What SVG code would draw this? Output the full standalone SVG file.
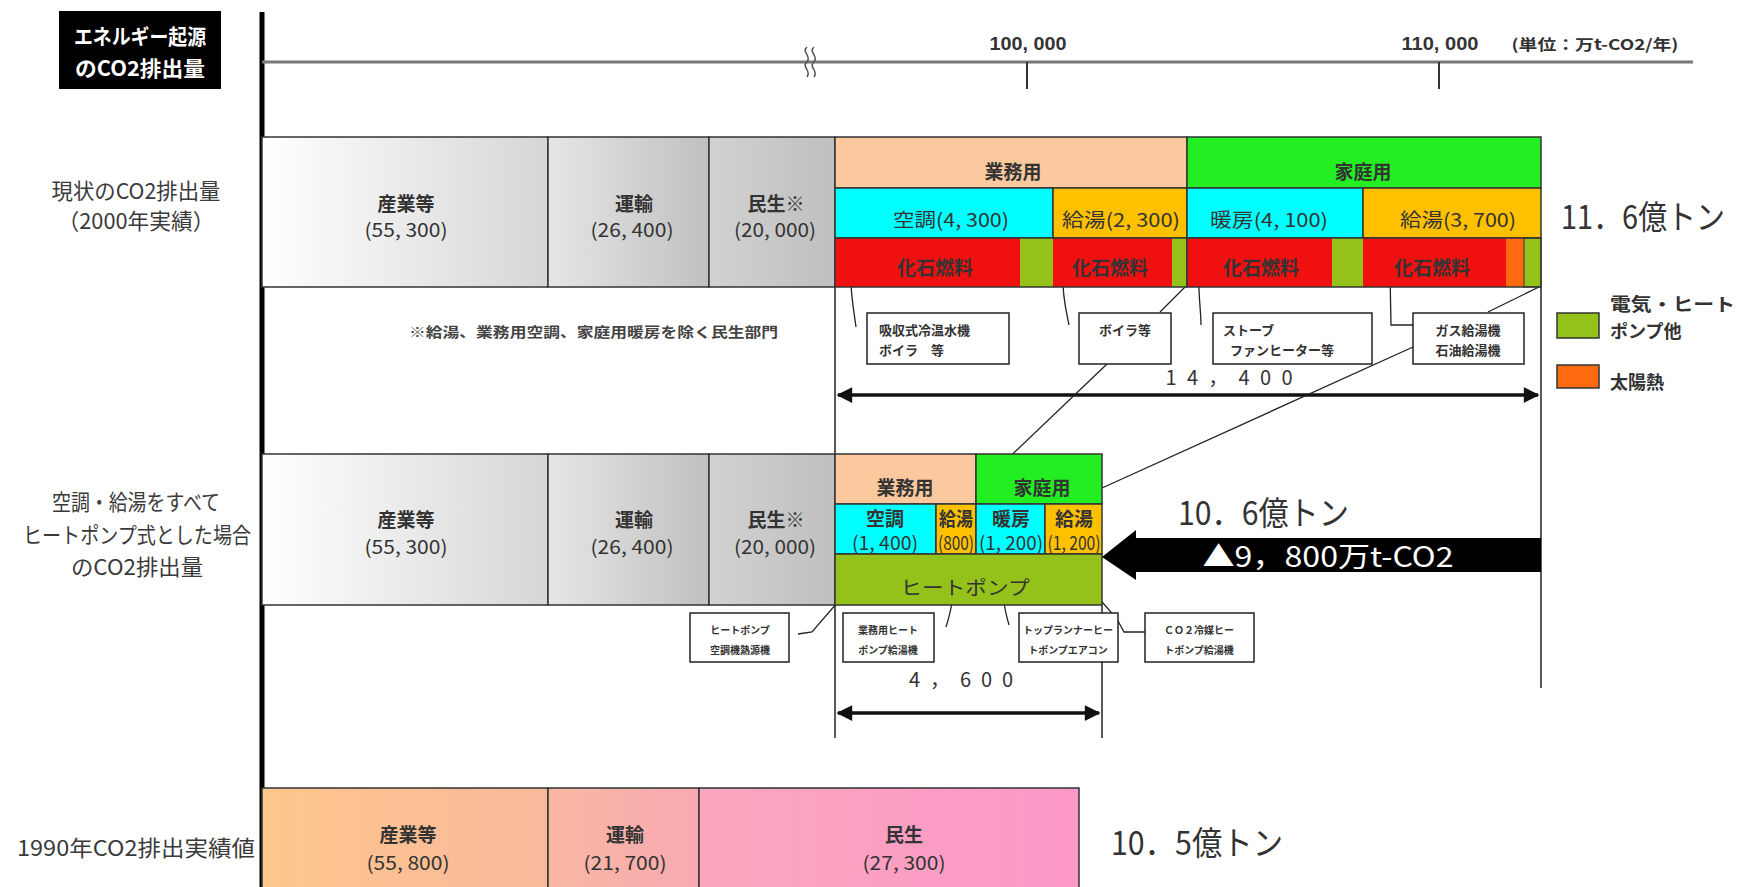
<svg xmlns="http://www.w3.org/2000/svg" width="1739" height="887" viewBox="0 0 1739 887">
<defs>
<style>
.jp{font-family:"Noto Sans CJK JP","Liberation Sans",sans-serif;}
.lbl{font-family:"Noto Sans CJK JP",sans-serif;font-size:22px;fill:#3a3a3a;text-anchor:middle;}
.bx{stroke:#333;stroke-width:1.5;}
.bt{font-family:"Noto Sans CJK JP",sans-serif;font-size:19px;fill:#333;text-anchor:middle;}
.bb{font-weight:bold;}
.num{font-family:"Liberation Sans",sans-serif;font-size:18px;fill:#333;text-anchor:middle;}
.co{fill:#fff;stroke:#222;stroke-width:1.5;}
.ct{font-family:"Noto Sans CJK JP",sans-serif;font-size:13px;font-weight:bold;fill:#333;}
.cs{font-family:"Noto Sans CJK JP",sans-serif;font-size:10px;font-weight:bold;fill:#333;text-anchor:middle;}
.big{font-family:"Noto Sans CJK JP",sans-serif;font-size:33px;fill:#333;}
.ld{fill:none;stroke:#222;stroke-width:1.3;}
.dim{stroke:#111;stroke-width:3.5;fill:none;}
</style>
<linearGradient id="gA" x1="0" x2="1" y1="0" y2="0"><stop offset="0" stop-color="#ffffff"/><stop offset="1" stop-color="#d6d6d6"/></linearGradient>
<linearGradient id="gB" x1="0" x2="1" y1="0" y2="0"><stop offset="0" stop-color="#e6e6e6"/><stop offset="1" stop-color="#c0c0c0"/></linearGradient>
<linearGradient id="gC" x1="0" x2="1" y1="0" y2="0"><stop offset="0" stop-color="#d2d2d2"/><stop offset="1" stop-color="#bfbfbf"/></linearGradient>
<linearGradient id="pA" x1="0" x2="1" y1="0" y2="0"><stop offset="0" stop-color="#fdc68c"/><stop offset="1" stop-color="#f9b99c"/></linearGradient>
<linearGradient id="pB" x1="0" x2="1" y1="0" y2="0"><stop offset="0" stop-color="#f9b8a3"/><stop offset="1" stop-color="#f8a9b1"/></linearGradient>
<linearGradient id="pC" x1="0" x2="1" y1="0" y2="0"><stop offset="0" stop-color="#f9a7bd"/><stop offset="1" stop-color="#fd97c8"/></linearGradient>
<marker id="ah" viewBox="0 0 10 10" refX="9" refY="5" markerWidth="6" markerHeight="4.5" orient="auto-start-reverse" markerUnits="strokeWidth"><path d="M0,0 L10,5 L0,10 z" fill="#111"/></marker>
</defs>
<rect width="1739" height="887" fill="#fff"/>

<!-- title / axis -->
<g id="title">
<rect x="59" y="11" width="162" height="78" fill="#000"/>
<text class="jp" x="140" y="44" font-size="21" font-weight="bold" fill="#fff" text-anchor="middle" textLength="132" lengthAdjust="spacingAndGlyphs">エネルギー起源</text>
<text class="jp" x="140" y="76" font-size="21" font-weight="bold" fill="#fff" text-anchor="middle" textLength="130" lengthAdjust="spacingAndGlyphs">のCO2排出量</text>
</g>
<g id="axis">
<line x1="262" y1="12" x2="262" y2="887" stroke="#000" stroke-width="5"/>
<line x1="262" y1="62" x2="1693" y2="62" stroke="#777" stroke-width="3"/>
<path d="M807,47 c-6,5 5,9 0,15 c-6,5 5,9 0,15 M814,47 c-6,5 5,9 0,15 c-6,5 5,9 0,15" fill="none" stroke="#555" stroke-width="1.5"/>
<line x1="1027" y1="62" x2="1027" y2="89" stroke="#333" stroke-width="2"/>
<line x1="1439" y1="62" x2="1439" y2="89" stroke="#333" stroke-width="2"/>
<text class="num" x="1028" y="50" font-weight="bold" textLength="77" lengthAdjust="spacingAndGlyphs">100, 000</text>
<text class="num" x="1440" y="50" font-weight="bold" textLength="77" lengthAdjust="spacingAndGlyphs">110, 000</text>
<text class="jp" x="1595" y="50" font-size="15" font-weight="bold" fill="#333" text-anchor="middle" textLength="167" lengthAdjust="spacingAndGlyphs">(単位：万t-CO2/年)</text>
</g>

<!-- row labels -->
<g id="row-labels">
<text class="lbl" x="136" y="199" font-size="20" textLength="169" lengthAdjust="spacingAndGlyphs">現状のCO2排出量</text>
<text class="lbl" x="136" y="229" font-size="20" textLength="157" lengthAdjust="spacingAndGlyphs">（2000年実績）</text>
<text class="lbl" x="136" y="510" textLength="168" lengthAdjust="spacingAndGlyphs">空調・給湯をすべて</text>
<text class="lbl" x="137" y="543" textLength="228" lengthAdjust="spacingAndGlyphs">ヒートポンプ式とした場合</text>
<text class="lbl" x="137" y="575" textLength="132" lengthAdjust="spacingAndGlyphs">のCO2排出量</text>
<text class="lbl" x="136" y="856" textLength="238" lengthAdjust="spacingAndGlyphs">1990年CO2排出実績値</text>
</g>

<!-- connectors -->
<g id="connectors">
<line x1="835" y1="287" x2="835" y2="454" stroke="#222" stroke-width="1.5"/>
<line x1="1541" y1="287" x2="1541" y2="688" stroke="#222" stroke-width="1.5"/>
<line x1="835" y1="605" x2="835" y2="738" stroke="#222" stroke-width="1.5"/>
<line x1="1102" y1="605" x2="1102" y2="738" stroke="#222" stroke-width="1.5"/>
<line class="dim" x1="838" y1="395" x2="1538" y2="395" marker-start="url(#ah)" marker-end="url(#ah)"/>
<line class="dim" x1="838" y1="713" x2="1099" y2="713" marker-start="url(#ah)" marker-end="url(#ah)"/>
<text class="jp" x="1229" y="385" font-size="20" fill="#333" text-anchor="middle" textLength="127" lengthAdjust="spacing">14，400</text>
<text class="jp" x="961" y="687" font-size="20" fill="#333" text-anchor="middle" textLength="104" lengthAdjust="spacing">4，600</text>
<path class="ld" d="M851,273 C850,290 853,305 856,327"/>
<path class="ld" d="M1063,275 C1062,295 1066,310 1069,325"/>
<path class="ld" d="M1199,273 C1198,295 1201,310 1201,325"/>
<path class="ld" d="M1390,273 L1391,325 L1413,325"/>
<path class="ld" d="M1160,312 L1186,286"/>
<path class="ld" d="M1488,312 L1541,286"/>
<path class="ld" d="M1107,364 L977,488"/>
<path class="ld" d="M1413,347 L1102,488"/>
<path class="ld" d="M798,634 L812,632 L850,588"/>
<path class="ld" d="M954,590 C952,605 950,615 946,627"/>
<path class="ld" d="M1002,590 C1004,605 1006,615 1009,625"/>
<path class="ld" d="M1090,588 L1117,619 L1124,632 L1145,632"/>
</g>

<!-- row 1 -->
<g id="r1-sangyo">
<rect class="bx" x="262" y="137" width="286" height="150" fill="url(#gA)"/>
<text class="bt bb" x="406" y="211">産業等</text>
<text class="bt" x="406" y="237" textLength="83" lengthAdjust="spacingAndGlyphs">(55, 300)</text>
</g>
<g id="r1-unyu">
<rect class="bx" x="548" y="137" width="161" height="150" fill="url(#gB)"/>
<text class="bt bb" x="634" y="211">運輸</text>
<text class="bt" x="632" y="237" textLength="83" lengthAdjust="spacingAndGlyphs">(26, 400)</text>
</g>
<g id="r1-minsei">
<rect class="bx" x="709" y="137" width="126" height="150" fill="url(#gC)"/>
<text class="bt bb" x="776" y="211">民生※</text>
<text class="bt" x="775" y="237" textLength="82" lengthAdjust="spacingAndGlyphs">(20, 000)</text>
</g>
<g id="r1-gyomu">
<rect class="bx" x="835" y="137" width="352" height="51" fill="#fbc99d"/>
<text class="bt bb" x="1013" y="179" fill="#5a3a1a">業務用</text>
<rect class="bx" x="835" y="188" width="218" height="50" fill="#00ffff"/>
<text class="bt" x="951" y="227" fill="#1f5f86" textLength="116" lengthAdjust="spacingAndGlyphs">空調(4, 300)</text>
<rect class="bx" x="1053" y="188" width="134" height="50" fill="#ffc000"/>
<text class="bt" x="1121" y="227" fill="#5a4210" textLength="118" lengthAdjust="spacingAndGlyphs">給湯(2, 300)</text>
<rect x="835" y="238" width="185" height="49" fill="#f01010"/>
<rect x="1020" y="238" width="33" height="49" fill="#94c11a"/>
<rect x="1053" y="238" width="119" height="49" fill="#f01010"/>
<rect x="1172" y="238" width="15" height="49" fill="#94c11a"/>
<rect x="835" y="238" width="352" height="49" fill="none" stroke="#333" stroke-width="1.5"/>
<text class="bt bb" x="935" y="275" fill="#a01010" font-size="18">化石燃料</text>
<text class="bt bb" x="1110" y="275" fill="#a01010" font-size="18">化石燃料</text>
</g>
<g id="r1-katei">
<rect class="bx" x="1187" y="137" width="354" height="51" fill="#22ee22"/>
<text class="bt bb" x="1363" y="179" fill="#0c5a0c">家庭用</text>
<rect class="bx" x="1187" y="188" width="176" height="50" fill="#00ffff"/>
<text class="bt" x="1269" y="227" fill="#1f5f86" textLength="118" lengthAdjust="spacingAndGlyphs">暖房(4, 100)</text>
<rect class="bx" x="1363" y="188" width="178" height="50" fill="#ffc000"/>
<text class="bt" x="1458" y="227" fill="#5a4210" textLength="116" lengthAdjust="spacingAndGlyphs">給湯(3, 700)</text>
<rect x="1187" y="238" width="145" height="49" fill="#f01010"/>
<rect x="1332" y="238" width="31" height="49" fill="#94c11a"/>
<rect x="1363" y="238" width="143" height="49" fill="#f01010"/>
<rect x="1506" y="238" width="18" height="49" fill="#ff6a10"/>
<rect x="1524" y="238" width="17" height="49" fill="#94c11a" stroke="#333" stroke-width="1"/>
<rect x="1187" y="238" width="354" height="49" fill="none" stroke="#333" stroke-width="1.5"/>
<text class="bt bb" x="1261" y="275" fill="#a01010" font-size="18">化石燃料</text>
<text class="bt bb" x="1432" y="275" fill="#a01010" font-size="18">化石燃料</text>
</g>
<g id="r1-total"><text class="big" x="1725" y="229" font-size="29" text-anchor="end" textLength="164" lengthAdjust="spacingAndGlyphs">11．6億トン</text></g>
<g id="note"><text class="jp" x="409" y="337" font-size="14" font-weight="bold" fill="#444" textLength="369" lengthAdjust="spacingAndGlyphs">※給湯、業務用空調、家庭用暖房を除く民生部門</text></g>

<!-- row 1 callouts -->
<g id="c-kyushu"><rect class="co" x="867" y="313" width="142" height="51"/>
<text class="ct" x="879" y="335">吸収式冷温水機</text><text class="ct" x="879" y="355">ボイラ　等</text></g>
<g id="c-boira"><rect class="co" x="1079" y="313" width="92" height="51"/>
<text class="ct" x="1125" y="335" text-anchor="middle">ボイラ等</text></g>
<g id="c-stove"><rect class="co" x="1213" y="313" width="159" height="51"/>
<text class="ct" x="1223" y="335">ストーブ</text><text class="ct" x="1230" y="355">ファンヒーター等</text></g>
<g id="c-gas"><rect class="co" x="1413" y="313" width="111" height="51"/>
<text class="ct" x="1468" y="335" text-anchor="middle">ガス給湯機</text><text class="ct" x="1468" y="355" text-anchor="middle">石油給湯機</text></g>

<!-- legend -->
<g id="legend">
<rect x="1557" y="313" width="42" height="25" fill="#94c11a" stroke="#333" stroke-width="1.5"/>
<rect x="1557" y="365" width="42" height="23" fill="#ff6a10" stroke="#333" stroke-width="1.5"/>
<text class="jp" x="1610" y="311" font-size="18" font-weight="bold" fill="#333" textLength="125" lengthAdjust="spacingAndGlyphs">電気・ヒート</text>
<text class="jp" x="1610" y="338" font-size="18" font-weight="bold" fill="#333">ポンプ他</text>
<text class="jp" x="1610" y="389" font-size="18" font-weight="bold" fill="#333">太陽熱</text>
</g>

<!-- row 2 -->
<g id="r2-sangyo">
<rect class="bx" x="262" y="454" width="286" height="151" fill="url(#gA)"/>
<text class="bt bb" x="406" y="527">産業等</text>
<text class="bt" x="406" y="554" textLength="83" lengthAdjust="spacingAndGlyphs">(55, 300)</text>
</g>
<g id="r2-unyu">
<rect class="bx" x="548" y="454" width="161" height="151" fill="url(#gB)"/>
<text class="bt bb" x="634" y="527">運輸</text>
<text class="bt" x="632" y="554" textLength="83" lengthAdjust="spacingAndGlyphs">(26, 400)</text>
</g>
<g id="r2-minsei">
<rect class="bx" x="709" y="454" width="126" height="151" fill="url(#gC)"/>
<text class="bt bb" x="776" y="527">民生※</text>
<text class="bt" x="775" y="554" textLength="82" lengthAdjust="spacingAndGlyphs">(20, 000)</text>
</g>
<g id="r2-hp">
<rect class="bx" x="835" y="454" width="141" height="50" fill="#fbc99d"/>
<text class="bt bb" x="905" y="495" fill="#5a3a1a">業務用</text>
<rect class="bx" x="976" y="454" width="126" height="50" fill="#22ee22"/>
<text class="bt bb" x="1042" y="495" fill="#0c5a0c">家庭用</text>
<rect class="bx" x="835" y="504" width="101" height="50" fill="#00ffff"/>
<text class="bt bb" x="885" y="526" fill="#1f5f86" font-size="16">空調</text>
<text class="bt" x="885" y="550" fill="#1f5f86" font-size="14" textLength="66" lengthAdjust="spacingAndGlyphs">(1, 400)</text>
<rect class="bx" x="936" y="504" width="40" height="50" fill="#ffc000"/>
<text class="bt bb" x="956" y="526" fill="#5a4210" font-size="16" textLength="34" lengthAdjust="spacingAndGlyphs">給湯</text>
<text class="bt" x="956" y="550" fill="#5a4210" font-size="14" textLength="36" lengthAdjust="spacingAndGlyphs">(800)</text>
<rect class="bx" x="976" y="504" width="69" height="50" fill="#00ffff"/>
<text class="bt bb" x="1011" y="526" fill="#1f5f86" font-size="16">暖房</text>
<text class="bt" x="1011" y="550" fill="#1f5f86" font-size="14" textLength="64" lengthAdjust="spacingAndGlyphs">(1, 200)</text>
<rect class="bx" x="1045" y="504" width="57" height="50" fill="#ffc000"/>
<text class="bt bb" x="1074" y="526" fill="#5a4210" font-size="16">給湯</text>
<text class="bt" x="1074" y="550" fill="#5a4210" font-size="14" textLength="53" lengthAdjust="spacingAndGlyphs">(1, 200)</text>
<rect class="bx" x="835" y="554" width="267" height="51" fill="#94c11a"/>
<text class="bt" x="965" y="595" fill="#3f5f10" font-size="23" textLength="129" lengthAdjust="spacingAndGlyphs">ヒートポンプ</text>
</g>
<g id="r2-total"><text class="big" x="1178" y="525" textLength="171" lengthAdjust="spacingAndGlyphs">10．6億トン</text></g>
<g id="reduction">
<polygon points="1102,557 1136,530 1136,538 1541,538 1541,572 1136,572 1136,580" fill="#000"/>
<text class="jp" x="1328" y="567" font-size="28" fill="#fff" text-anchor="middle" textLength="251" lengthAdjust="spacingAndGlyphs">▲9，800万t-CO2</text>
</g>

<!-- row 2 callouts -->
<g id="c-hp-kucho"><rect class="co" x="690" y="613" width="99" height="49"/>
<text class="cs" x="740" y="634">ヒートポンプ</text><text class="cs" x="740" y="654">空調機熱源機</text></g>
<g id="c-hp-gyomu"><rect class="co" x="843" y="613" width="91" height="49"/>
<text class="cs" x="888" y="634">業務用ヒート</text><text class="cs" x="888" y="654">ポンプ給湯機</text></g>
<g id="c-toprunner"><rect class="co" x="1019" y="613" width="99" height="49"/>
<text class="cs" x="1068" y="634">トップランナーヒー</text><text class="cs" x="1068" y="654">トポンプエアコン</text></g>
<g id="c-co2"><rect class="co" x="1145" y="613" width="109" height="49"/>
<text class="cs" x="1199" y="634">ＣＯ２冷媒ヒー</text><text class="cs" x="1199" y="654">トポンプ給湯機</text></g>

<!-- row 3 -->
<g id="r3-sangyo">
<rect class="bx" x="262" y="788" width="286" height="110" fill="url(#pA)"/>
<text class="bt bb" x="408" y="842">産業等</text>
<text class="bt" x="408" y="870" textLength="83" lengthAdjust="spacingAndGlyphs">(55, 800)</text>
</g>
<g id="r3-unyu">
<rect class="bx" x="548" y="788" width="151" height="110" fill="url(#pB)"/>
<text class="bt bb" x="625" y="842">運輸</text>
<text class="bt" x="625" y="870" textLength="83" lengthAdjust="spacingAndGlyphs">(21, 700)</text>
</g>
<g id="r3-minsei">
<rect class="bx" x="699" y="788" width="380" height="110" fill="url(#pC)"/>
<text class="bt bb" x="904" y="842">民生</text>
<text class="bt" x="904" y="870" textLength="83" lengthAdjust="spacingAndGlyphs">(27, 300)</text>
</g>
<g id="r3-total"><text class="big" x="1111" y="855" textLength="172" lengthAdjust="spacingAndGlyphs">10．5億トン</text></g>
</svg>
